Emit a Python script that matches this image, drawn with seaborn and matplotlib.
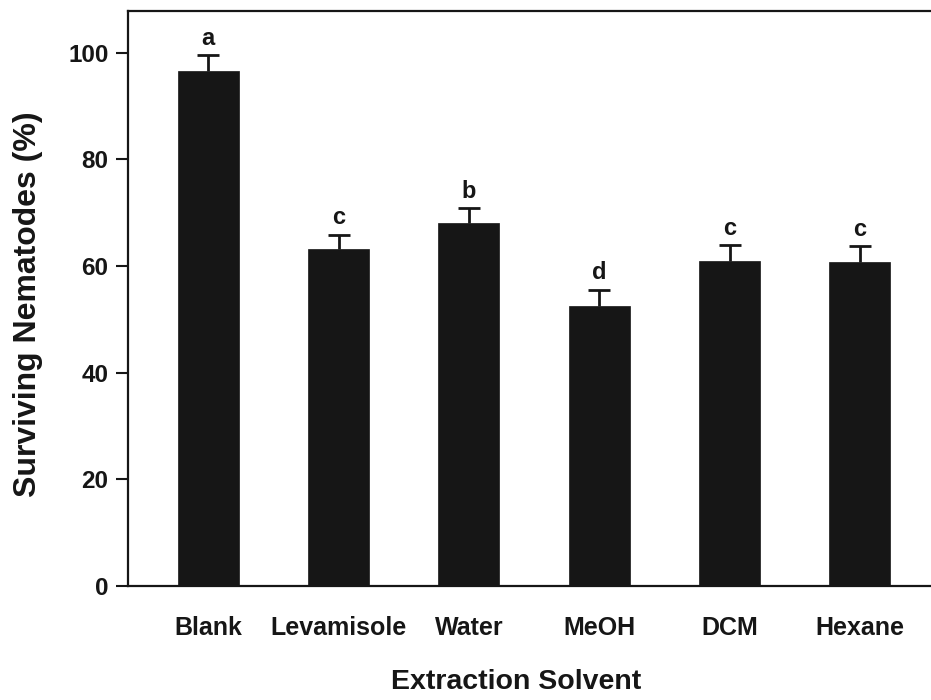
import matplotlib
matplotlib.use("Agg")
import matplotlib.pyplot as plt
import seaborn as sns
import pandas as pd

# Nematode survival after exposure to extracts from different solvents
solvents = ["Blank", "Levamisole", "Water", "MeOH", "DCM", "Hexane"]
survival = [96.5, 63.2, 68.0, 52.5, 61.0, 60.7]
sem = [3.0, 2.7, 2.8, 3.0, 2.9, 3.0]
groups = ["a", "c", "b", "d", "c", "c"]
y_ticks = [0, 20, 40, 60, 80, 100]

sns.set_theme(style="white")
plt.rcParams["font.family"] = ["Liberation Sans", "DejaVu Sans"]
plt.rcParams["font.weight"] = "bold"

df = pd.DataFrame({"solvent": solvents, "survival": survival})

fig = plt.figure(figsize=(9.31, 7.0), dpi=100)
ax = fig.add_axes([0.1375, 0.163, 0.8625, 0.821])

sns.barplot(data=df, x="solvent", y="survival", color="#161616",
            saturation=1, width=0.47, errorbar=None, ax=ax, zorder=2,
            edgecolor="#161616", linewidth=0.5)

# upper-only error bars (mean + SEM)
xpos = list(range(len(solvents)))
_, caps, _ = ax.errorbar(xpos, survival, yerr=[[0] * len(sem), sem], fmt="none",
                         ecolor="#161616", elinewidth=2.0, capsize=8,
                         capthick=2.0, zorder=1)
caps[0].set_visible(False)

for x, v, e, g in zip(xpos, survival, sem, groups):
    ax.annotate(g, (x, v + e), xytext=(0, 4), textcoords="offset points",
                ha="center", va="bottom", fontsize=17, fontweight="bold",
                color="#161616")

ax.set_xlim(-0.615, 5.546)
ax.set_ylim(0, 107.8)
ax.set_yticks(y_ticks)
ax.set_yticklabels([str(t) for t in y_ticks], fontsize=17.5, fontweight="bold")
ax.tick_params(axis="y", direction="out", length=9, width=1.5, pad=5,
               left=True, colors="#161616")
ax.tick_params(axis="x", length=0, pad=22, labelsize=18, colors="#161616")
for lbl in ax.get_xticklabels():
    lbl.set_fontweight("bold")

for side in ["left", "bottom", "top"]:
    ax.spines[side].set_visible(True)
    ax.spines[side].set_linewidth(1.6)
    ax.spines[side].set_color("#161616")
ax.spines["right"].set_visible(False)

ax.set_xlabel("Extraction Solvent", fontsize=20.5, fontweight="bold", color="#161616")
ax.xaxis.set_label_coords(0.483, -0.145)
ax.set_ylabel("Surviving Nematodes (%)", fontsize=23, fontweight="bold", color="#161616")
ax.yaxis.set_label_coords(-0.106, 0.491)

fig.savefig("out.png", dpi=100, facecolor="white")
